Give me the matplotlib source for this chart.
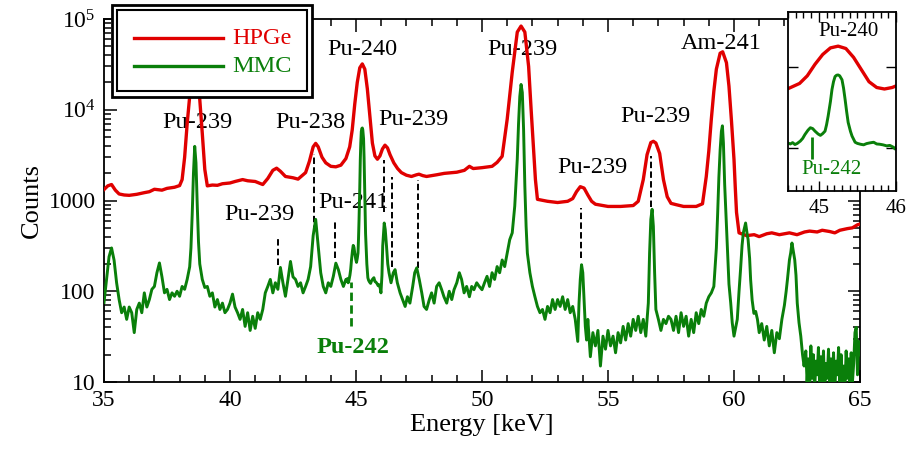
import matplotlib
matplotlib.use('Agg')
import matplotlib.pyplot as plt
from matplotlib.ticker import MultipleLocator, LogLocator, NullFormatter
from matplotlib.patches import Rectangle

plt.rcParams['font.family'] = 'Liberation Serif'
plt.rcParams['mathtext.fontset'] = 'stix'

RED = '#e00000'
GREEN = '#0a7f0a'

# HPGe spectrum (energy in keV, counts)
hpge_kev = [35.0, 35.15, 35.3, 35.45, 35.6, 35.8, 36.0, 36.3, 36.6, 36.8,
            37.0, 37.3, 37.5, 37.8, 38.0, 38.1, 38.2, 38.3, 38.4, 38.5,
            38.6, 38.7, 38.8, 38.9, 39.0, 39.1, 39.3, 39.5, 39.7, 40.0,
            40.2, 40.5, 40.7, 41.0, 41.3, 41.5, 41.7, 41.85, 42.0, 42.2,
            42.5, 42.7, 43.0, 43.15, 43.3, 43.4, 43.5, 43.65, 43.8, 44.0,
            44.2, 44.4, 44.6, 44.75, 44.85, 44.95, 45.05, 45.15, 45.25, 45.35,
            45.45, 45.55, 45.65, 45.75, 45.85, 45.95, 46.05, 46.15, 46.25, 46.35,
            46.5, 46.65, 46.8, 47.0, 47.2, 47.4, 47.5, 47.65, 47.8, 48.2,
            48.5, 49.0, 49.3, 49.5, 49.65, 50.0, 50.4, 50.6, 50.8, 51.0,
            51.2, 51.4, 51.55, 51.7, 51.85, 51.95, 52.05, 52.12, 52.2, 52.6,
            53.0, 53.4, 53.6, 53.75, 53.9, 54.05, 54.2, 54.35, 54.5, 55.0,
            55.5, 56.0, 56.2, 56.4, 56.55, 56.7, 56.8, 56.9, 57.05, 57.2,
            57.35, 57.5, 57.7, 58.0, 58.5, 58.75, 58.9, 59.0, 59.1, 59.2,
            59.3, 59.45, 59.55, 59.7, 59.8, 59.9, 60.0, 60.05, 60.1, 60.2,
            60.5, 60.8, 61.0, 61.3, 61.5, 61.8, 62.0, 62.2, 62.5, 62.8,
            63.0, 63.3, 63.5, 63.8, 64.0, 64.2, 64.5, 64.7, 64.9, 65.0]
hpge_counts = [1320, 1450, 1500, 1300, 1180, 1150, 1140, 1170, 1220, 1250,
               1330, 1300, 1360, 1400, 1460, 1700, 3000, 7000, 14000, 21000,
               25000, 22000, 13000, 5500, 2200, 1450, 1480, 1470, 1530, 1560,
               1620, 1700, 1650, 1620, 1500, 1750, 2150, 2270, 2100, 1840,
               1780, 1720, 2030, 2700, 3900, 4260, 3900, 3000, 2600, 2380,
               2350, 2450, 2900, 3900, 6000, 11500, 20000, 29000, 32000, 28000,
               17000, 8500, 4300, 3100, 2850, 3100, 3700, 4070, 3800, 3200,
               2600, 2250, 2030, 1900, 1840, 1920, 1950, 1880, 1840, 1920,
               1990, 2050, 2150, 2380, 2250, 2300, 2380, 2630, 3070, 7880,
               26000, 71800, 83600, 71800, 30000, 10000, 3500, 1700, 1030, 980,
               950, 980, 1050, 1250, 1420, 1370, 1150, 980, 910, 860,
               860, 880, 980, 1700, 3200, 4350, 4490, 4300, 3300, 1700,
               1100, 930, 900, 860, 860, 920, 1840, 3500, 7880, 16000,
               28000, 42000, 43500, 33000, 18200, 7500, 2830, 1400, 740, 440,
               410, 420, 400, 430, 440, 420, 430, 440, 420, 450,
               460, 450, 470, 455, 440, 470, 490, 500, 540, 550]

# MMC spectrum (energy in keV, counts)
mmc_kev = [35.0, 35.1, 35.2, 35.3, 35.4, 35.5, 35.6, 35.7, 35.8, 35.9,
           36.0, 36.1, 36.2, 36.3, 36.4, 36.5, 36.6, 36.7, 36.8, 36.9,
           37.0, 37.1, 37.2, 37.3, 37.4, 37.5, 37.6, 37.7, 37.8, 37.9,
           38.0, 38.1, 38.2, 38.3, 38.4, 38.45, 38.5, 38.55, 38.6, 38.65,
           38.7, 38.75, 38.8, 38.9, 39.0, 39.1, 39.2, 39.3, 39.4, 39.5,
           39.6, 39.7, 39.8, 39.9, 40.0, 40.1, 40.2, 40.3, 40.4, 40.5,
           40.6, 40.7, 40.8, 40.9, 41.0, 41.1, 41.2, 41.3, 41.4, 41.5,
           41.6, 41.7, 41.8, 41.9, 42.0, 42.1, 42.2, 42.3, 42.4, 42.5,
           42.6, 42.7, 42.8, 42.9, 43.0, 43.1, 43.2, 43.3, 43.4, 43.5,
           43.6, 43.7, 43.8, 43.9, 44.0, 44.1, 44.2, 44.3, 44.4, 44.5,
           44.6, 44.63, 44.66, 44.69, 44.72, 44.76, 44.79, 44.82, 44.86, 44.89,
           44.92, 44.95, 44.99, 45.02, 45.05, 45.08, 45.1, 45.12, 45.15, 45.17,
           45.19, 45.21, 45.23, 45.25, 45.27, 45.3, 45.32, 45.34, 45.36, 45.38,
           45.41, 45.43, 45.47, 45.5, 45.54, 45.58, 45.62, 45.66, 45.71, 45.75,
           45.79, 45.83, 45.88, 45.92, 45.96, 45.99, 46.03, 46.06, 46.12, 46.16,
           46.21, 46.26, 46.31, 46.39, 46.48, 46.55, 46.64, 46.75, 46.85, 46.95,
           47.04, 47.14, 47.25, 47.33, 47.41, 47.51, 47.61, 47.7, 47.8, 47.91,
           48.0, 48.1, 48.2, 48.3, 48.4, 48.49, 48.6, 48.7, 48.8, 48.89,
           49.0, 49.1, 49.19, 49.29, 49.39, 49.5, 49.59, 49.68, 49.79, 49.89,
           50.0, 50.1, 50.2, 50.3, 50.4, 50.5, 50.6, 50.7, 50.8, 50.9,
           51.0, 51.1, 51.2, 51.3, 51.4, 51.45, 51.5, 51.55, 51.6, 51.65,
           51.7, 51.75, 51.8, 51.9, 52.0, 52.1, 52.2, 52.3, 52.4, 52.5,
           52.6, 52.7, 52.8, 52.9, 53.0, 53.1, 53.2, 53.3, 53.4, 53.5,
           53.6, 53.7, 53.8, 53.85, 53.9, 53.95, 54.0, 54.05, 54.1, 54.15,
           54.2, 54.3, 54.4, 54.5, 54.6, 54.7, 54.8, 54.9, 55.0, 55.1,
           55.2, 55.3, 55.4, 55.5, 55.6, 55.7, 55.8, 55.9, 56.0, 56.1,
           56.2, 56.3, 56.4, 56.5, 56.6, 56.65, 56.7, 56.75, 56.8, 56.85,
           56.9, 57.0, 57.1, 57.2, 57.3, 57.4, 57.5, 57.6, 57.7, 57.8,
           57.9, 58.0, 58.1, 58.2, 58.3, 58.4, 58.5, 58.6, 58.7, 58.8,
           58.9, 59.0, 59.1, 59.2, 59.3, 59.35, 59.4, 59.45, 59.5, 59.54,
           59.58, 59.63, 59.68, 59.74, 59.8, 59.87, 59.93, 60.0, 60.07, 60.13,
           60.2, 60.26, 60.32, 60.37, 60.46, 60.52, 60.56, 60.62, 60.66, 60.72,
           60.79, 60.86, 60.93, 61.0, 61.1, 61.2, 61.3, 61.4, 61.5, 61.6,
           61.7, 61.8, 61.9, 62.0, 62.07, 62.12, 62.2, 62.25, 62.3, 62.41,
           62.46, 62.51, 62.58, 62.65, 62.72, 62.78, 62.85, 62.9, 62.95, 63.0,
           63.05, 63.1, 63.15, 63.2, 63.25, 63.3, 63.35, 63.4, 63.45, 63.5,
           63.55, 63.6, 63.65, 63.7, 63.75, 63.8, 63.85, 63.9, 63.95, 64.0,
           64.05, 64.1, 64.15, 64.2, 64.25, 64.3, 64.35, 64.4, 64.45, 64.5,
           64.55, 64.6, 64.65, 64.7, 64.75, 64.8, 64.85, 64.9, 64.95, 65.0]
mmc_counts = [75, 135, 240, 300, 220, 124, 81, 58, 67, 49,
              67, 58, 35, 63, 74, 58, 96, 67, 81, 105,
              113, 160, 205, 144, 96, 105, 81, 96, 88, 100,
              88, 113, 105, 135, 186, 300, 700, 2000, 3950, 2600,
              900, 350, 200, 135, 110, 113, 88, 96, 67, 81,
              63, 74, 58, 63, 74, 93, 67, 58, 49, 63,
              41, 58, 37, 53, 39, 58, 49, 63, 96, 113,
              135, 96, 124, 105, 183, 124, 88, 135, 213, 144,
              135, 113, 124, 96, 113, 135, 187, 410, 620, 316,
              160, 113, 96, 124, 113, 146, 204, 173, 135, 113,
              135, 128, 138, 124, 132, 151, 175, 219, 280, 320,
              305, 264, 225, 208, 230, 264, 380, 610, 1400, 2760,
              4300, 5750, 6200, 6300, 6000, 4800, 3000, 1590, 800, 430,
              260, 200, 141, 132, 126, 122, 131, 136, 141, 128,
              126, 122, 115, 118, 108, 96, 150, 316, 565, 480,
              316, 200, 160, 124, 160, 173, 124, 96, 81, 68,
              87, 74, 113, 160, 181, 135, 96, 68, 63, 81,
              96, 74, 113, 124, 104, 87, 74, 100, 81, 104,
              124, 160, 135, 96, 113, 87, 113, 104, 124, 113,
              104, 124, 146, 113, 160, 135, 187, 160, 221, 187,
              263, 370, 440, 870, 2860, 7000, 14000, 19000, 15500, 6100,
              1440, 520, 263, 160, 113, 87, 68, 58, 63, 49,
              68, 58, 81, 63, 81, 68, 87, 63, 81, 58,
              68, 49, 28, 74, 135, 196, 160, 81, 41, 29,
              49, 19, 35, 25, 37, 15, 32, 23, 37, 25,
              32, 21, 35, 27, 41, 29, 44, 32, 49, 37,
              53, 35, 49, 32, 74, 263, 620, 800, 520, 160,
              63, 49, 37, 49, 44, 53, 49, 37, 53, 35,
              58, 41, 53, 32, 49, 35, 58, 44, 63, 53,
              74, 87, 96, 113, 300, 700, 1800, 3600, 5800, 6650,
              4300, 1500, 700, 265, 120, 74, 45, 32, 40, 49,
              100, 174, 320, 440, 565, 430, 370, 230, 134, 80,
              57, 60, 49, 35, 44, 29, 41, 25, 37, 21,
              35, 30, 49, 70, 100, 134, 222, 265, 340, 222,
              150, 74, 45, 32, 20, 15, 22, 10, 18, 8,
              25, 11, 20, 8, 17, 12, 24, 9, 19, 10,
              22, 8, 16, 11, 23, 9, 18, 10, 21, 8,
              17, 12, 24, 9, 20, 10, 15, 8, 22, 11,
              18, 9, 21, 10, 16, 35, 40, 12, 28, 20]

# peak labels (text, energy, counts)
label_text = ['Pu-239', 'Pu-238', 'Pu-240', 'Pu-239', 'Pu-239', 'Pu-239',
              'Pu-239', 'Am-241', 'Pu-239', 'Pu-241']
label_kev = [38.69, 43.17, 45.24, 47.26, 51.59, 54.37, 56.87, 59.48, 41.15, 44.88]
label_counts = [7300, 7300, 46500, 7850, 46500, 2320, 8500, 54300, 700, 955]

# dashed marker lines (energy, lower and upper counts)
line_kev = [41.90, 43.33, 44.17, 46.11, 46.43, 47.46, 53.93, 56.71]
line_low = [196, 455, 235, 740, 187, 182, 235, 850]
line_high = [390, 3250, 590, 2800, 1800, 1700, 830, 3100]

fig = plt.figure(figsize=(9.06, 4.53), dpi=100)
ax = fig.add_axes([104 / 906, 1 - 382 / 453, 756 / 906, 363 / 453])

ax.plot(hpge_kev, hpge_counts, color=RED, lw=2.4, zorder=3)
ax.plot(mmc_kev, mmc_counts, color=GREEN, lw=2.1, zorder=4)
ax.set_yscale('log')
ax.set_xlim(35, 65)
ax.set_ylim(10, 1e5)

for t, e, c in zip(label_text, label_kev, label_counts):
    ax.text(e, c, t, ha='center', va='center', fontsize=17.5, zorder=1.5)
ax.text(44.88, 23.8, 'Pu-242', color=GREEN, fontweight='bold',
        ha='center', va='center', fontsize=17.5, zorder=1.5)

ax.vlines(line_kev, line_low, line_high, colors='k', lw=1.4,
          linestyles=(0, (3.3, 1.7)), zorder=2)
ax.vlines([44.80], [41], [126], colors=GREEN, lw=2.0,
          linestyles=(0, (3.0, 1.6)), zorder=2)

ax.xaxis.set_major_locator(MultipleLocator(5))
ax.xaxis.set_minor_locator(MultipleLocator(1))
ax.set_yticks([10, 100, 1000, 1e4, 1e5])
ax.set_yticklabels(['10', '100', '1000', r'$\mathregular{10^4}$', r'$\mathregular{10^5}$'])
ax.yaxis.set_minor_locator(LogLocator(base=10, subs=range(2, 10)))
ax.yaxis.set_minor_formatter(NullFormatter())
ax.tick_params(which='both', direction='in', top=True, right=True,
               labelsize=17, width=1.1, pad=6)
ax.tick_params(which='major', length=9)
ax.tick_params(which='minor', length=5)
for s in ax.spines.values():
    s.set_linewidth(1.3)
ax.set_xlabel('Energy [keV]', fontsize=19, labelpad=2)
ax.set_ylabel('Counts', fontsize=19, labelpad=4)

# inset around the Pu-240 line
iax = fig.add_axes([788 / 906, 1 - 191 / 453, 108 / 906, 179 / 453])
iax.plot(hpge_kev, hpge_counts, color=RED, lw=2.4)
iax.plot(mmc_kev, mmc_counts, color=GREEN, lw=2.1)
iax.set_yscale('log')
iax.set_xlim(44.6, 46.0)
iax.set_ylim(9, 2.2e5)
iax.set_xticks([45, 46])
iax.xaxis.set_minor_locator(MultipleLocator(0.1))
iax.yaxis.set_minor_locator(LogLocator(base=10, subs=range(2, 10)))
iax.yaxis.set_major_formatter(NullFormatter())
iax.yaxis.set_minor_formatter(NullFormatter())
iax.tick_params(which='both', direction='in', top=True, right=True,
                labelsize=15, width=1.0, pad=6)
iax.tick_params(which='major', length=7)
iax.tick_params(which='minor', length=4)
for s in iax.spines.values():
    s.set_linewidth(1.3)
iax.text(45.39, 73000, 'Pu-240', ha='center', va='center', fontsize=15)
iax.text(45.17, 30, 'Pu-242', color=GREEN, ha='center', va='center', fontsize=15)
iax.vlines([44.91], [56], [185], colors=GREEN, lw=2.0)

# framed legend
lax = fig.add_axes([112 / 906, 1 - 97 / 453, 200 / 906, 92 / 453])
lax.set_xlim(0, 200)
lax.set_ylim(92, 0)
lax.axis('off')
lax.add_patch(Rectangle((0, 0), 200, 92, facecolor='white', edgecolor='k',
                        lw=2.0, clip_on=False))
lax.add_patch(Rectangle((5, 5), 190, 81, facecolor='none', edgecolor='k',
                        lw=1.5, clip_on=False))
lax.plot([22, 111], [33, 33], color=RED, lw=2.4)
lax.plot([22, 111], [61, 61], color=GREEN, lw=2.4)
lax.text(120, 34, 'HPGe', color=RED, va='center', fontsize=17.5)
lax.text(120, 62, 'MMC', color=GREEN, va='center', fontsize=17.5)

fig.savefig('out.png', dpi=100)
